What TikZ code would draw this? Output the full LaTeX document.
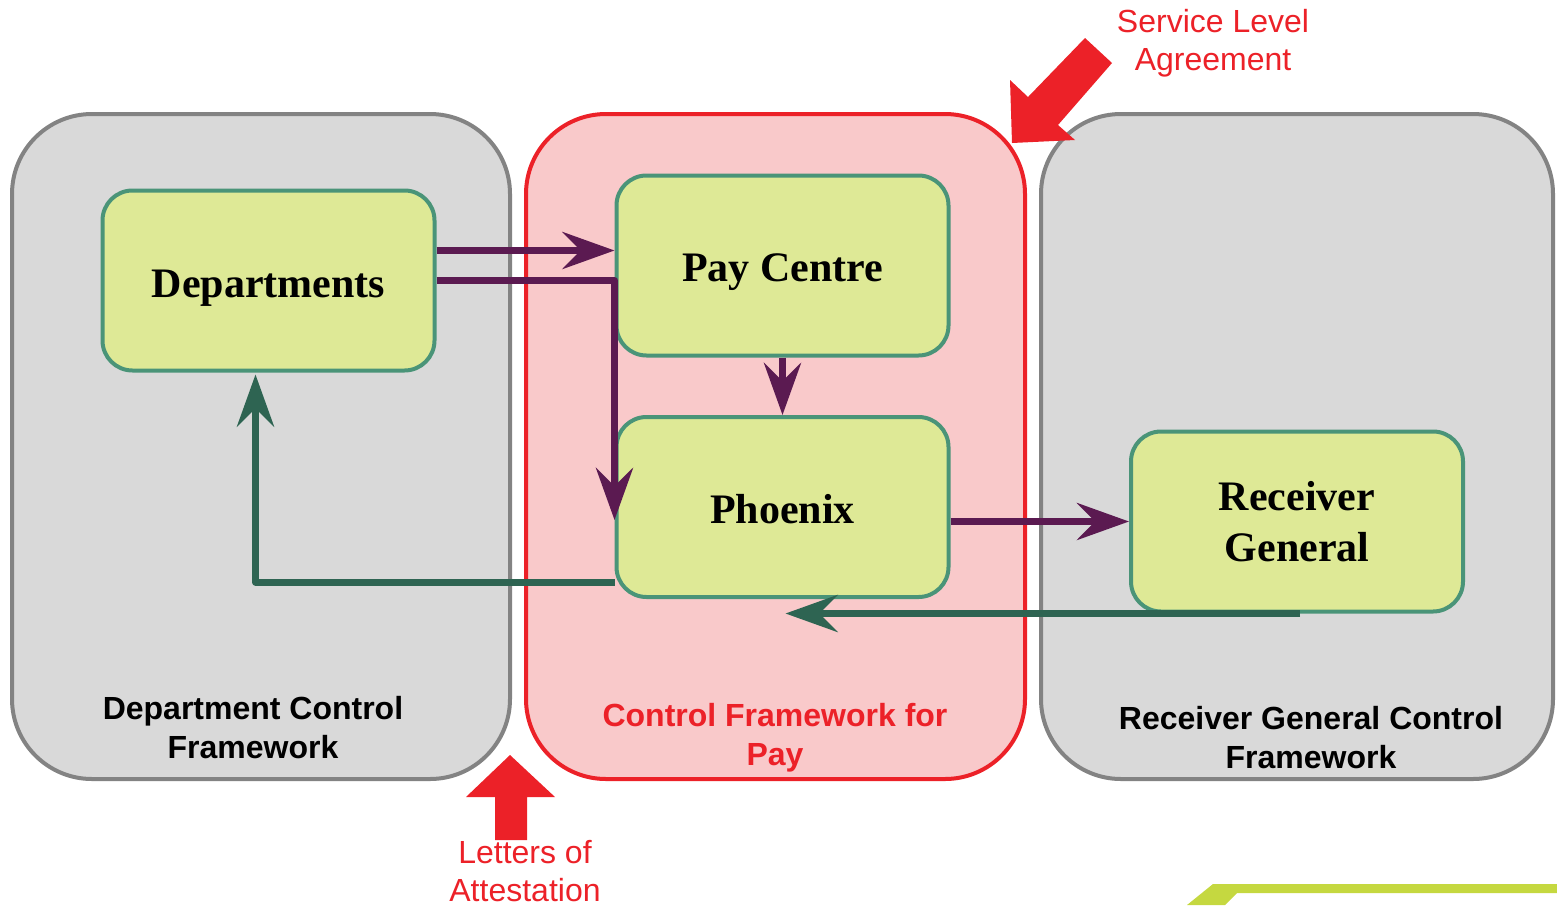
\documentclass[tikz,border=0pt]{standalone}
\usepackage{fontspec}
\setmainfont{Liberation Serif}
\setsansfont{Liberation Sans}
\usetikzlibrary{arrows.meta}
\definecolor{boxgray}{RGB}{217,217,217}
\definecolor{edgegray}{RGB}{131,131,131}
\definecolor{boxpink}{RGB}{249,201,202}
\definecolor{alertred}{RGB}{236,33,40}
\definecolor{blkfill}{RGB}{222,233,150}
\definecolor{blkedge}{RGB}{74,148,120}
\definecolor{flowpurple}{RGB}{91,26,81}
\definecolor{flowgreen}{RGB}{46,100,82}
\definecolor{stripe}{RGB}{197,216,64}

\begin{document}
\begin{tikzpicture}[x=1pt, y=-1pt,
  frame/.style={draw=edgegray, fill=boxgray, line width=4pt, rounded corners=80pt},
  blk/.style={draw=blkedge, fill=blkfill, line width=4pt, rounded corners=30pt,
    minimum width=332pt, minimum height=180pt, align=center,
    font=\fontsize{42}{51}\selectfont\bfseries},
  lbl/.style={align=center, font=\sffamily\bfseries\fontsize{32}{39}\selectfont},
  note/.style={align=center, text=alertred, font=\sffamily\fontsize{32}{38}\selectfont},
  parr/.style={draw=flowpurple, line width=7pt, line join=round,
    -{Stealth[length=52pt, width=37pt, inset=18pt]}},
  garr/.style={draw=flowgreen, line width=7pt, line join=round,
    -{Stealth[length=52pt, width=37pt, inset=18pt]}}]
  \useasboundingbox (0,0) rectangle (1557,905);

  % frameworks
  \node (dcf) [frame, minimum width=498pt, minimum height=665pt] at (261,446.5) {};
  \node (pcf) [frame, draw=alertred, fill=boxpink, minimum width=499pt, minimum height=665pt] at (775.5,446.5) {};
  \node (rcf) [frame, minimum width=512pt, minimum height=665pt] at (1297,446.5) {};

  \node (dcfl) [lbl] at (253,727.5) {Department Control\\Framework};
  \node (pcfl) [lbl, text=alertred] at (775,738) {Control Framework for\\Pay};
  \node (rcfl) [lbl] at (1311,738) {Receiver General Control\\Framework};

  % blocks
  \node (dep) [blk, text height=42pt] at (268.5,280.5) {Departments};
  \node (pay) [blk, text height=42pt] at (782.5,265.5) {Pay Centre};
  \node (phx) [blk, text height=33pt] at (782.5,507) {Phoenix};
  \node (rg)  [blk] at (1297,521.5) {Receiver\\General};

  % flows
  \draw[parr] ([yshift=30pt]dep.east) -- ([yshift=30pt]dep.east -| pay.west);
  \draw[parr] (dep.east) -| ([yshift=-13pt]phx.west);
  \draw[parr] (pay.south) -- (phx.north);
  \draw[parr] (phx.east |- rg.west) -- (rg.west);
  \draw[garr] ([yshift=-75pt]phx.west) -| ([xshift=-13pt, yshift=-2pt]dep.south);
  \draw[garr] ([xshift=3pt]rg.south) -- ([xshift=3pt]rg.south -| phx.south);

  % agreements
  \fill[alertred] (1012,143) -- (1010,80) -- (1028,97) -- (1085,38) -- (1112,63)
    -- (1058,125) -- (1075,140) -- cycle;
  \fill[alertred] (510,755) -- (466,797) -- (495,797) -- (495,840) -- (527,840)
    -- (527,797) -- (555,797) -- cycle;
  \node (sla) [note] at (1213,43) {Service Level\\Agreement};
  \node (loa) [note] at (525,871) {Letters of\\Attestation};

  \fill[stripe] (1213,884) -- (1557,884) -- (1557,893) -- (1237,893) -- (1225,905)
    -- (1187,905) -- cycle;
\end{tikzpicture}
\end{document}
